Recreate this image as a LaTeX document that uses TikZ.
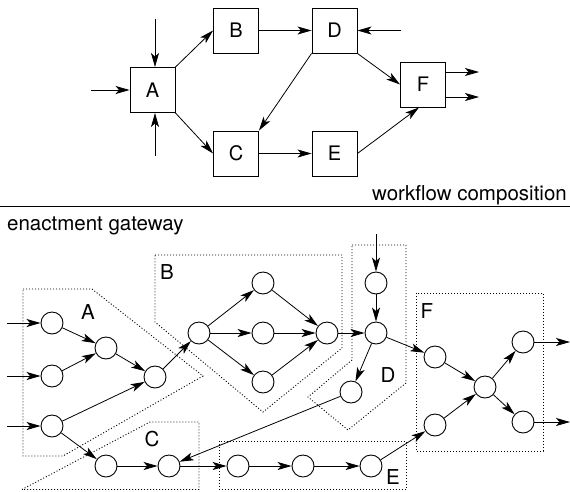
\documentclass[tikz,border=0pt]{standalone}
\usepackage{fontspec}
\setmainfont{TeX Gyre Heros}
\usetikzlibrary{arrows.meta}
\begin{document}
\begin{tikzpicture}[x=1pt,y=-1pt,
  box/.style={draw, line width=0.9pt, minimum width=45pt, minimum height=45pt, inner sep=0pt, font=\fontsize{20}{24}\selectfont},
  dot/.style={draw, circle, line width=0.9pt, minimum size=22pt, inner sep=0pt},
  arr/.style={line width=0.8pt, -{Stealth[length=14pt,width=8pt,inset=3.5pt]}},
  region/.style={line width=0.9pt, dash pattern=on 1pt off 2pt},
  lab/.style={font=\fontsize{20.5}{24}\selectfont, inner sep=0pt}]
\useasboundingbox (0,0) rectangle (570,491);

% ---------- workflow composition ----------
\node[box] (A) at (152.5,90) {A};
\node[box] (B) at (236,30.5) {B};
\node[box] (C) at (236,153.5) {C};
\node[box] (D) at (334.5,30.5) {D};
\node[box] (E) at (334.5,153.5) {E};
\node[box] (F) at (423,84.5) {F};

\coordinate (Ain1) at (91,90);
\coordinate (Ain2) at (155,19);
\coordinate (Ain3) at (155,156);
\coordinate (Din) at (401,30.5);
\coordinate (Fo1) at (479,72);
\coordinate (Fo2) at (479,97);

\draw[arr] (Ain1) -- (A.west);
\draw[arr] (Ain2) -- (Ain2 |- A.north);
\draw[arr] (Ain3) -- (Ain3 |- A.south);
\draw[arr] (Din) -- (D.east);
\draw[arr] (A.north east) -- (B.west);
\draw[arr] (A.south east) -- (C.west);
\draw[arr] (B.east) -- (D.west);
\draw[arr] (D.south west) -- (C.north east);
\draw[arr] (D.south east) -- (F.west);
\draw[arr] (C.east) -- (E.west);
\draw[arr] (E.east) -- ([xshift=-4pt]F.south);
\draw[arr] (F.east |- Fo1) -- (Fo1);
\draw[arr] (F.east |- Fo2) -- (Fo2);

% ---------- separator ----------
\coordinate (L1) at (0,206);
\coordinate (L2) at (570,206);
\draw[line width=0.9pt] (L1) -- (L2);
\node[lab, anchor=base east] (wc) at (567,200) {workflow composition};
\node[lab, anchor=base west] (eg) at (7,230) {enactment gateway};

% ---------- regions ----------
\draw[region] (23,289) -- (92,289) -- (203,376) -- (63,456) -- (23,456) -- cycle;
\draw[region] (155,255) -- (342,255) -- (342,348) -- (263,412) -- (155,322) -- cycle;
\draw[region] (22,489.5) -- (150,422) -- (199,422) -- (199,489.5) -- cycle;
\draw[region] (352,245) -- (406,245) -- (406,383) -- (348,430) -- (308,397) -- (352,360) -- cycle;
\draw[region] (219,441) rectangle (406,489.5);
\draw[region] (416,293) rectangle (543,451);

\node[lab] (lA) at (88,312) {A};
\node[lab] (lB) at (167,272) {B};
\node[lab] (lC) at (152,439) {C};
\node[lab] (lD) at (388,375) {D};
\node[lab] (lE) at (393,477) {E};
\node[lab] (lF) at (427,311) {F};

% ---------- enactment nodes ----------
\node[dot] (a1) at (52,323) {};
\node[dot] (a2) at (52,376) {};
\node[dot] (a3) at (52,426) {};
\node[dot] (a4) at (106,348) {};
\node[dot] (a5) at (155,377) {};
\node[dot] (b1) at (199,333) {};
\node[dot] (b2) at (263,283) {};
\node[dot] (b3) at (263,333) {};
\node[dot] (b4) at (263,382) {};
\node[dot] (b5) at (327,333) {};
\node[dot] (d1) at (376,283) {};
\node[dot] (d2) at (376,333) {};
\node[dot] (d3) at (351,392) {};
\node[dot] (c1) at (106,466) {};
\node[dot] (c2) at (169,466) {};
\node[dot] (e1) at (238,466) {};
\node[dot] (e2) at (303,466) {};
\node[dot] (e3) at (371,466) {};
\node[dot] (f1) at (435,357) {};
\node[dot] (f2) at (485,387) {};
\node[dot] (f3) at (523,342) {};
\node[dot] (f4) at (523,422) {};
\node[dot] (f5) at (435,425) {};

\coordinate (ia1) at (7,323);
\coordinate (ia2) at (7,376);
\coordinate (ia3) at (7,426);
\coordinate (id1) at (376,234);
\coordinate (of3) at (570,342);
\coordinate (of4) at (570,422);

\draw[arr] (ia1) -- (a1);
\draw[arr] (ia2) -- (a2);
\draw[arr] (ia3) -- (a3);
\draw[arr] (a1) -- (a4);
\draw[arr] (a2) -- (a4);
\draw[arr] (a4) -- (a5);
\draw[arr] (a3) -- (a5);
\draw[arr] (a3) -- (c1);
\draw[arr] (a5) -- (b1);
\draw[arr] (b1) -- (b2);
\draw[arr] (b1) -- (b3);
\draw[arr] (b1) -- (b4);
\draw[arr] (b2) -- (b5);
\draw[arr] (b3) -- (b5);
\draw[arr] (b4) -- (b5);
\draw[arr] (b5) -- (d2);
\draw[arr] (id1) -- (d1);
\draw[arr] (d1) -- (d2);
\draw[arr] (d2) -- (d3);
\draw[arr] (d2) -- (f1);
\draw[arr] (d3) -- (c2);
\draw[arr] (c1) -- (c2);
\draw[arr] (c2) -- (e1);
\draw[arr] (e1) -- (e2);
\draw[arr] (e2) -- (e3);
\draw[arr] (e3) -- (f5);
\draw[arr] (f1) -- (f2);
\draw[arr] (f5) -- (f2);
\draw[arr] (f2) -- (f3);
\draw[arr] (f2) -- (f4);
\draw[arr] (f3) -- (of3);
\draw[arr] (f4) -- (of4);
\end{tikzpicture}
\end{document}
